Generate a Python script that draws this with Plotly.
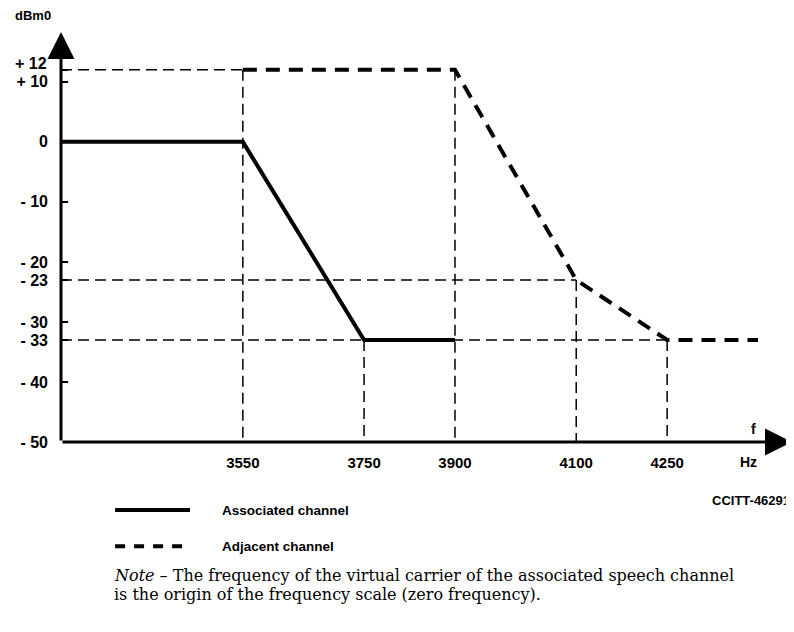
import plotly.graph_objects as go

# ---- data ----
assoc_f = [3250, 3550, 3750, 3900]
assoc_db = [0, 0, -33, -33]
adj_f = [3550, 3900, 4100, 4250, 4400]
adj_db = [12, 12, -23, -33, -33]
x_ticks = [3550, 3750, 3900, 4100, 4250]
y_ticks = [12, 10, 0, -10, -20, -23, -30, -33, -40, -50]
y_ticktext = ["", "+ 10", "0", "- 10", "- 20", "- 23", "- 30", "- 33", "- 40", "- 50"]
X_MIN, X_MAX = 3250, 4456
Y_MIN, Y_MAX = -50, 18.3

SANS = "Liberation Sans, Arial, sans-serif"
SERIF = "DejaVu Serif, Liberation Serif, serif"

def bfont(size):
    return dict(family=SANS, size=size, color="black", weight="bold")

fig = go.Figure()

thin = dict(color="black", width=1.5, dash="11px,6px")
assoc_line = dict(color="black", width=4)
adj_line = dict(color="black", width=4, dash="14px,9px")

# thin dashed construction lines (from break points)
guides = [
    ([X_MIN, adj_f[0]], [adj_db[0], adj_db[0]]),
    ([adj_f[0], adj_f[0]], [adj_db[0], Y_MIN]),
    ([adj_f[1], adj_f[1]], [adj_db[1], Y_MIN]),
    ([X_MIN, adj_f[2]], [adj_db[2], adj_db[2]]),
    ([adj_f[2], adj_f[2]], [adj_db[2], Y_MIN]),
    ([X_MIN, adj_f[3]], [adj_db[3], adj_db[3]]),
    ([assoc_f[2], assoc_f[2]], [assoc_db[2], Y_MIN]),
    ([adj_f[3], adj_f[3]], [adj_db[3], Y_MIN]),
]
for gx, gy in guides:
    fig.add_trace(go.Scatter(x=gx, y=gy, mode="lines", line=thin,
                             showlegend=False, hoverinfo="skip"))

fig.add_trace(go.Scatter(x=assoc_f, y=assoc_db, mode="lines",
                         name="Associated channel", line=assoc_line,
                         showlegend=False))
fig.add_trace(go.Scatter(x=adj_f, y=adj_db, mode="lines",
                         name="Adjacent channel", line=adj_line,
                         showlegend=False))

# axes with arrows
for tip, tail in [((X_MIN, Y_MAX), (X_MIN, Y_MIN)), ((X_MAX, Y_MIN), (X_MIN, Y_MIN))]:
    fig.add_annotation(x=tip[0], y=tip[1], ax=tail[0], ay=tail[1], xref="x", yref="y",
                       axref="x", ayref="y", showarrow=True, arrowhead=2,
                       arrowsize=1.8, arrowwidth=3, arrowcolor="black", text="")

# +12 label slightly raised
fig.add_annotation(x=0, xref="paper", y=12, yref="y", text="+ 12",
                   showarrow=False, xanchor="right", xshift=-12, yshift=6,
                   font=bfont(16))
fig.add_annotation(x=0, xref="paper", y=1, yref="paper", text="dBm0",
                   showarrow=False, xanchor="right", yanchor="bottom",
                   xshift=-8, yshift=7, font=bfont(13))
fig.add_annotation(x=4392, xref="x", y=Y_MIN, yref="y", text="f",
                   showarrow=False, yanchor="bottom", yshift=3, font=bfont(14))
fig.add_annotation(x=4385, xref="x", y=Y_MIN, yref="y", text="Hz",
                   showarrow=False, yanchor="top", yshift=-10, font=bfont(14))
fig.add_annotation(x=1, xref="paper", y=Y_MIN, yref="y", text="CCITT-46291",
                   showarrow=False, xanchor="right", yanchor="middle", yshift=-58,
                   font=bfont(13))

# legend (drawn as keys + labels below the chart)
legend_items = [("Associated channel", assoc_line, -0.166),
                ("Adjacent channel", dict(color="black", width=4, dash="10px,9px"), -0.254)]
for label, style, ly in legend_items:
    fig.add_shape(type="line", xref="paper", yref="paper", x0=0.074, x1=0.1765,
                  y0=ly, y1=ly, line=style)
    fig.add_annotation(x=0.2175, xref="paper", y=ly, yref="paper", text=label,
                       showarrow=False, xanchor="left", yanchor="middle",
                       font=bfont(13.5))

note_lines = [
    "<i>Note</i> – The frequency of the virtual carrier of the associated speech channel",
    "is the origin of the frequency scale (zero frequency).",
]
for line, ny in zip(note_lines, [-0.325, -0.372]):
    fig.add_annotation(x=0.074, xref="paper", y=ny, yref="paper", yanchor="middle",
                       xanchor="left", align="left", showarrow=False, text=line,
                       xshift=-3, font=dict(family=SERIF, size=16, color="black"))

fig.update_xaxes(range=[X_MIN, X_MAX], tickvals=x_ticks,
                 ticktext=[str(v) for v in x_ticks],
                 ticks="outside", ticklen=7, tickcolor="white",
                 showgrid=False, zeroline=False, showline=False,
                 automargin=False, tickfont=bfont(15))
fig.update_yaxes(range=[Y_MIN, Y_MAX], tickvals=y_ticks, ticktext=y_ticktext,
                 ticks="inside", ticklen=7, tickwidth=2, tickcolor="black",
                 showgrid=False, zeroline=False, showline=False,
                 automargin=False, ticklabelstandoff=12, tickfont=bfont(16))

# the page adds an 8px body margin, so the figure is 8px smaller each way
fig.update_layout(
    width=786, height=624,
    margin=dict(l=53, r=2, t=24, b=190, autoexpand=False),
    plot_bgcolor="white", paper_bgcolor="white",
    showlegend=False,
)

fig.write_html("out.html")
